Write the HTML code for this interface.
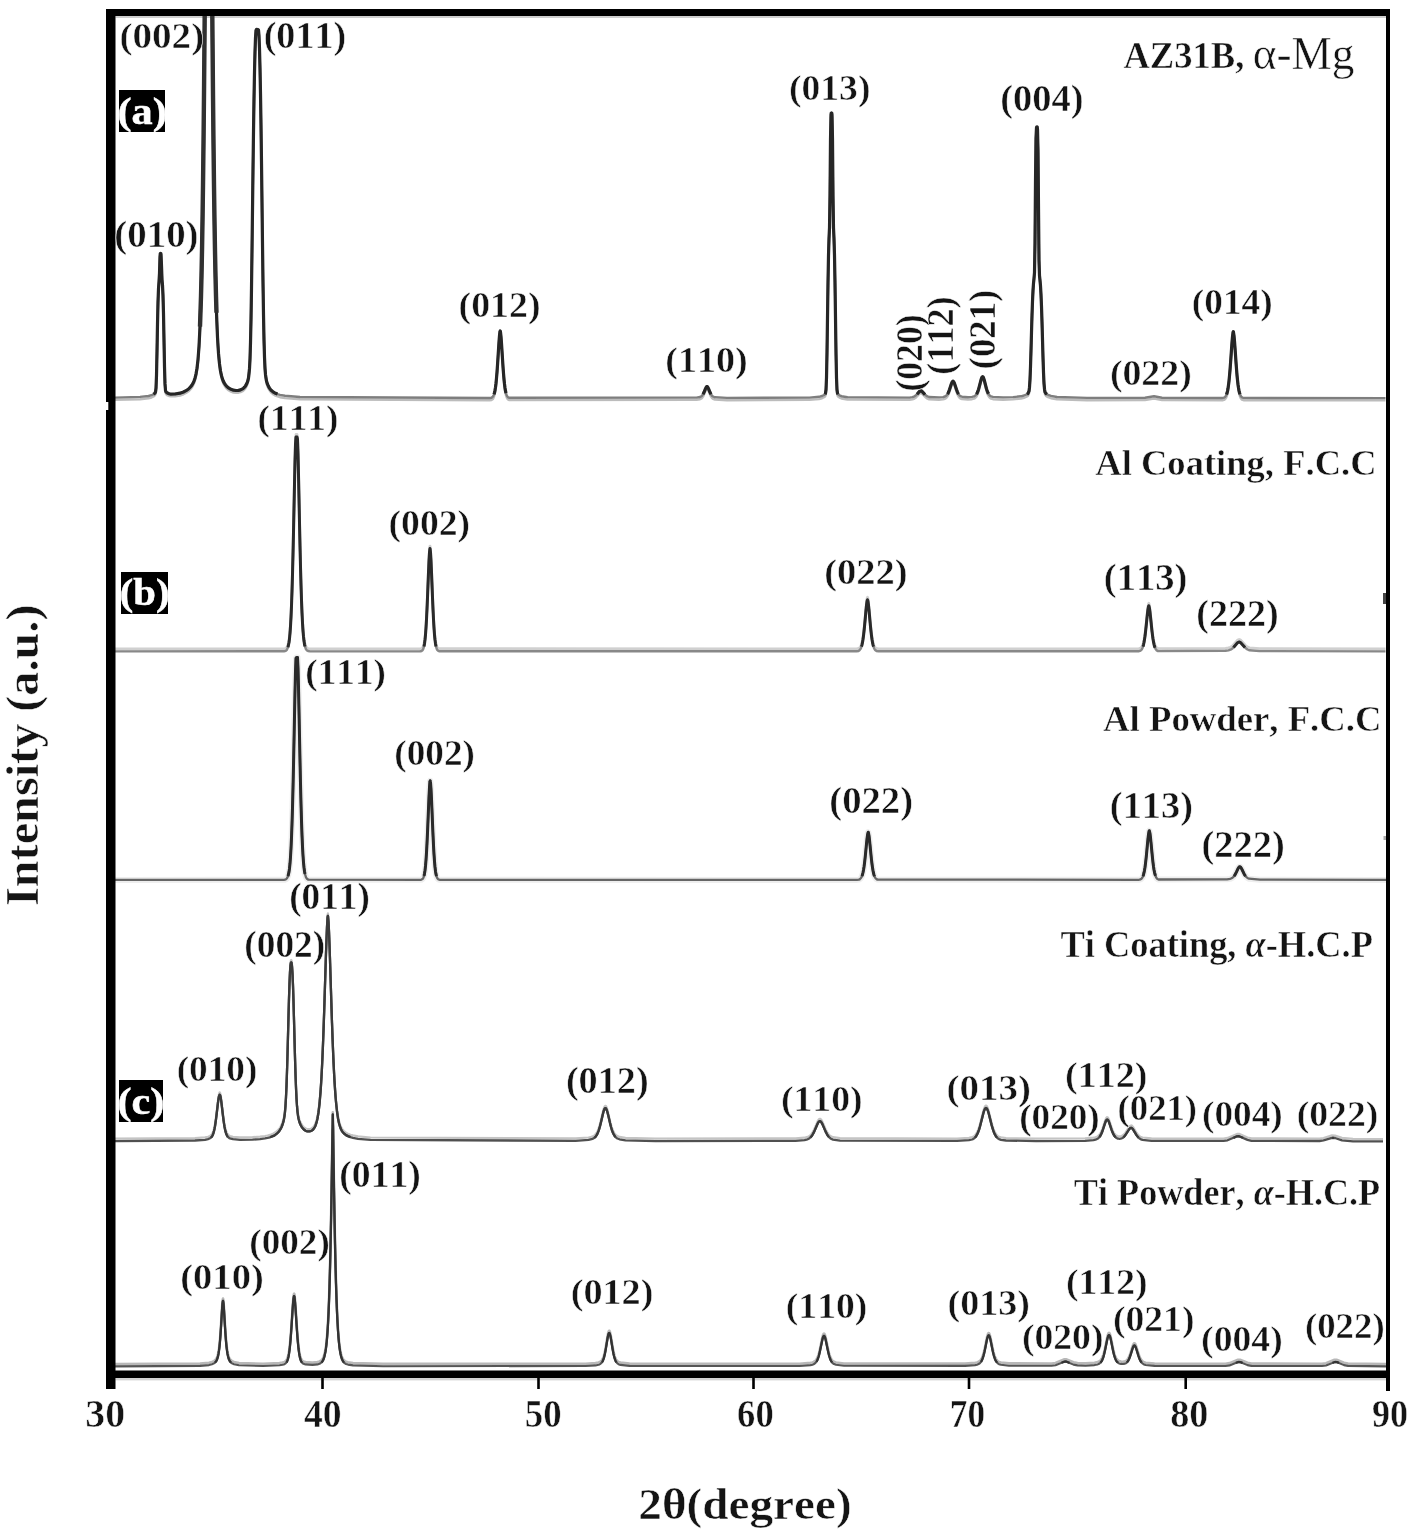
<!DOCTYPE html><html><head><meta charset="utf-8"><title>XRD patterns</title><style>html,body{margin:0;padding:0;background:#fff}svg{display:block}text{font-family:"Liberation Serif","Times New Roman",serif;font-weight:bold;font-kerning:none;fill:#141414;stroke:#fff;stroke-width:0.5px}</style></head><body>
<svg width="1415" height="1537" viewBox="0 0 1415 1537">
<rect width="1415" height="1537" fill="#fff"/>
<defs><clipPath id="pc"><rect x="115" y="16" width="1271" height="1355"/></clipPath></defs>
<rect x="115.5" y="16" width="1270.5" height="2" fill="#cfcfcf"/>
<g clip-path="url(#pc)" fill="none" stroke-linejoin="round">
<defs><path id="cAZ31B" d="M115.0,397.6 140.0,396.9 148.5,396.0 151.5,395.2 153.5,394.2 154.5,393.4 155.0,392.9 155.5,392.0 156.0,388.1 156.5,375.5 157.0,351.7 157.5,324.1 158.0,302.1 158.5,288.7 159.0,281.9 159.5,273.3 160.0,256.8 160.3,253.5 160.6,253.3 160.8,253.5 161.0,254.2 161.5,265.8 162.0,279.6 162.5,285.1 163.0,295.4 163.5,313.9 164.0,340.0 164.5,366.6 165.0,383.9 165.5,390.4 166.0,391.9 167.0,392.8 169.0,393.7 171.0,394.1 175.0,394.0 180.0,393.2 183.5,392.0 186.0,390.7 188.5,389.0 191.0,386.4 192.0,385.0 193.0,383.3 194.0,381.1 195.0,378.2 196.0,374.1 197.0,368.3 198.0,359.6 199.0,346.5 200.0,326.6 201.0,296.3 201.5,275.9 202.0,251.2 202.5,221.4 203.0,185.8 203.5,143.7 204.0,94.6 204.5,37.9 205.0,-26.2 205.5,-97.4 206.0,-174.2 206.5,-254.3 207.0,-333.9 207.5,-407.3 208.0,-467.1 208.2,-488.3 208.5,-499.6 208.8,-488.3 209.0,-467.1 209.5,-407.4 210.0,-333.9 210.5,-254.4 211.0,-174.3 211.5,-97.5 212.0,-26.4 212.5,37.8 213.0,94.4 213.5,143.5 214.0,185.6 214.5,221.2 215.0,251.0 215.5,275.7 216.0,296.0 216.5,312.7 217.5,337.2 218.5,353.4 219.5,363.9 220.5,371.0 221.5,375.7 222.5,379.1 223.5,381.6 224.5,383.4 225.5,384.9 226.5,386.1 227.5,387.1 228.5,387.9 231.0,389.3 233.5,390.2 236.0,390.5 238.5,390.4 240.5,389.9 242.5,388.9 243.5,388.2 244.5,387.2 245.5,385.9 246.5,384.1 247.5,381.8 248.5,378.0 249.5,368.7 250.0,358.8 250.5,342.8 251.0,319.4 251.5,288.4 252.0,251.0 253.0,169.5 253.5,131.7 254.0,99.0 254.5,72.3 255.0,51.8 255.5,37.8 256.0,30.5 256.5,29.4 258.0,29.5 258.5,30.1 259.0,36.0 259.5,48.7 260.0,68.0 260.5,93.6 261.0,125.2 261.5,162.2 262.0,202.6 262.5,243.7 263.0,282.0 263.5,314.6 264.0,339.6 264.5,357.0 265.0,368.1 265.5,374.7 266.5,381.0 267.5,384.2 268.5,386.4 269.5,388.1 270.5,389.5 271.5,390.6 273.5,392.2 275.5,393.3 277.5,394.1 280.0,394.9 285.0,395.8 300.0,397.0 489.5,398.0 491.5,397.7 492.5,397.0 493.0,396.5 493.5,395.6 494.0,394.4 494.5,392.7 495.0,390.3 495.5,387.2 496.0,383.2 496.5,378.1 497.0,372.1 497.5,365.1 498.0,357.4 498.5,349.5 499.0,341.9 499.5,335.6 499.9,331.8 500.0,331.5 500.2,330.9 500.4,331.8 500.5,332.1 501.0,336.7 501.5,343.4 502.0,351.1 502.5,359.0 503.0,366.5 503.5,373.3 504.0,379.2 504.5,384.0 505.0,387.9 505.5,390.9 506.0,393.1 506.5,394.7 507.0,395.8 507.5,396.6 508.0,397.1 508.5,397.5 509.5,397.8 696.5,397.6 700.0,397.0 701.0,396.5 702.0,395.7 703.0,394.3 704.0,392.3 705.5,388.6 706.0,387.6 706.5,386.8 707.0,386.6 707.5,386.8 708.0,387.6 708.5,388.6 710.0,392.3 711.0,394.3 712.0,395.7 713.0,396.5 715.0,397.3 727.0,397.9 809.5,397.6 819.0,396.8 822.0,396.0 824.0,395.0 825.0,394.2 825.5,393.3 826.0,389.7 826.5,377.8 827.0,352.7 828.0,282.7 828.5,255.6 829.0,238.6 829.5,227.7 830.0,195.9 830.5,139.2 831.0,115.0 831.2,113.2 831.5,113.0 831.8,113.2 832.0,115.0 832.5,139.2 833.0,195.9 833.5,227.7 834.0,238.6 834.5,255.6 835.0,282.7 836.0,352.7 836.5,377.8 837.0,389.7 837.5,393.3 838.0,394.2 839.5,395.3 841.5,396.2 847.5,397.3 909.5,397.6 912.5,397.1 914.5,396.3 916.0,395.2 919.5,391.4 920.5,390.8 921.0,390.8 922.0,391.3 925.5,395.0 927.5,396.4 929.0,397.0 939.0,397.4 943.0,397.1 945.0,396.5 946.0,395.9 947.0,394.9 947.5,394.1 948.0,393.2 948.5,392.2 949.5,389.6 951.0,384.9 951.5,383.5 952.0,382.3 952.5,381.5 953.0,381.2 953.5,381.5 954.0,382.3 954.5,383.4 956.5,389.5 957.5,392.1 958.0,393.2 958.5,394.1 959.5,395.4 960.5,396.2 962.0,396.7 968.0,397.2 972.0,396.9 974.0,396.4 975.0,395.8 976.0,394.9 976.5,394.2 977.0,393.3 977.5,392.2 978.0,390.9 978.5,389.4 979.0,387.6 981.0,379.9 981.5,378.3 982.0,377.2 982.6,376.7 983.0,376.9 983.5,377.8 984.0,379.2 984.5,381.0 986.0,386.9 986.5,388.7 987.0,390.3 987.5,391.7 988.0,392.9 988.5,393.8 989.0,394.6 990.0,395.7 991.0,396.3 993.0,396.9 1003.0,397.4 1013.0,397.1 1021.0,396.3 1024.0,395.5 1026.0,394.7 1027.0,394.2 1028.0,393.4 1029.0,391.1 1029.5,387.2 1030.0,379.3 1030.5,366.7 1031.0,350.2 1031.5,332.2 1032.0,315.3 1032.5,301.2 1033.0,290.6 1033.5,283.3 1034.0,278.4 1034.5,272.7 1035.0,243.2 1035.5,181.4 1036.0,138.4 1036.5,127.5 1036.7,127.0 1037.0,126.9 1037.2,127.0 1037.5,129.4 1038.0,150.9 1038.5,207.0 1039.0,260.1 1039.5,275.8 1040.0,280.1 1040.5,285.9 1041.0,294.5 1041.5,306.5 1042.0,321.8 1043.0,357.1 1043.5,372.3 1044.0,383.1 1044.5,389.2 1045.0,392.0 1046.0,393.6 1048.0,394.8 1051.0,395.9 1057.0,397.0 1087.0,397.9 1145.0,397.7 1154.0,396.3 1162.0,397.7 1222.0,398.0 1223.0,397.9 1224.0,397.6 1225.0,397.0 1226.0,395.7 1226.5,394.6 1227.0,393.1 1227.5,391.1 1228.0,388.4 1228.5,385.1 1229.0,380.9 1229.5,375.9 1230.0,370.0 1230.5,363.5 1231.5,349.3 1232.0,342.4 1232.5,336.6 1233.0,332.6 1233.0,332.4 1233.3,331.7 1233.5,332.2 1233.5,332.4 1234.0,335.7 1234.5,341.2 1235.0,347.9 1236.0,362.1 1236.5,368.8 1237.0,374.8 1237.5,380.0 1238.0,384.3 1238.5,387.8 1239.0,390.6 1239.5,392.7 1240.0,394.3 1240.5,395.5 1241.0,396.3 1241.5,396.9 1242.5,397.6 1243.5,397.9 1385.5,398.1"/></defs>
<use href="#cAZ31B" stroke="#bcbcbc" stroke-width="2.4" transform="translate(0,2.3)"/>
<use href="#cAZ31B" stroke="#7e7e7e" stroke-width="2.4"/>
<path d="M153.5,394.2 154.5,393.4 155.0,392.9 155.5,392.0 156.0,388.1 156.5,375.5 157.0,351.7 157.5,324.1 158.0,302.1 158.5,288.7 159.0,281.9 159.5,273.3 160.0,256.8 160.3,253.5 160.6,253.3 160.8,253.5 161.0,254.2 161.5,265.8 162.0,279.6 162.5,285.1 163.0,295.4 163.5,313.9 164.0,340.0 164.5,366.6 165.0,383.9 165.5,390.4 166.0,391.9 167.0,392.8 169.0,393.7 171.0,394.1 175.0,394.0 180.0,393.2 183.5,392.0 186.0,390.7 188.5,389.0 191.0,386.4 192.0,385.0 193.0,383.3 194.0,381.1 195.0,378.2 196.0,374.1 197.0,368.3 198.0,359.6 199.0,346.5 200.0,326.6 201.0,296.3 201.5,275.9 202.0,251.2 202.5,221.4 203.0,185.8 203.5,143.7 204.0,94.6 204.5,37.9 205.0,-26.2 205.5,-97.4 206.0,-174.2 206.5,-254.3 207.0,-333.9 207.5,-407.3 208.0,-467.1 208.2,-488.3 208.5,-499.6 208.8,-488.3 209.0,-467.1 209.5,-407.4 210.0,-333.9 210.5,-254.4 211.0,-174.3 211.5,-97.5 212.0,-26.4 212.5,37.8 213.0,94.4 213.5,143.5 214.0,185.6 214.5,221.2 215.0,251.0 215.5,275.7 216.0,296.0 216.5,312.7 217.5,337.2 218.5,353.4 219.5,363.9 220.5,371.0 221.5,375.7 222.5,379.1 223.5,381.6 224.5,383.4 225.5,384.9 226.5,386.1 227.5,387.1 228.5,387.9 231.0,389.3 233.5,390.2 236.0,390.5 238.5,390.4 240.5,389.9 242.5,388.9 243.5,388.2 244.5,387.2 245.5,385.9 246.5,384.1 247.5,381.8 248.5,378.0 249.5,368.7 250.0,358.8 250.5,342.8 251.0,319.4 251.5,288.4 252.0,251.0 253.0,169.5 253.5,131.7 254.0,99.0 254.5,72.3 255.0,51.8 255.5,37.8 256.0,30.5 256.5,29.4 258.0,29.5 258.5,30.1 259.0,36.0 259.5,48.7 260.0,68.0 260.5,93.6 261.0,125.2 261.5,162.2 262.0,202.6 262.5,243.7 263.0,282.0 263.5,314.6 264.0,339.6 264.5,357.0 265.0,368.1 265.5,374.7 266.5,381.0 267.5,384.2 268.5,386.4 269.5,388.1 270.5,389.5 271.5,390.6 273.5,392.2 275.5,393.3 277.5,394.1 M494.0,394.4 494.5,392.7 495.0,390.3 495.5,387.2 496.0,383.2 496.5,378.1 497.0,372.1 497.5,365.1 498.0,357.4 498.5,349.5 499.0,341.9 499.5,335.6 499.9,331.8 500.0,331.5 500.2,330.9 500.4,331.8 500.5,332.1 501.0,336.7 501.5,343.4 502.0,351.1 502.5,359.0 503.0,366.5 503.5,373.3 504.0,379.2 504.5,384.0 505.0,387.9 505.5,390.9 506.0,393.1 M703.0,394.3 704.0,392.3 705.5,388.6 706.0,387.6 706.5,386.8 707.0,386.6 707.5,386.8 708.0,387.6 708.5,388.6 710.0,392.3 711.0,394.3 M825.0,394.2 825.5,393.3 826.0,389.7 826.5,377.8 827.0,352.7 828.0,282.7 828.5,255.6 829.0,238.6 829.5,227.7 830.0,195.9 830.5,139.2 831.0,115.0 831.2,113.2 831.5,113.0 831.8,113.2 832.0,115.0 832.5,139.2 833.0,195.9 833.5,227.7 834.0,238.6 834.5,255.6 835.0,282.7 836.0,352.7 836.5,377.8 837.0,389.7 837.5,393.3 838.0,394.2 M917.0,394.2 919.5,391.4 920.5,390.8 921.0,390.8 922.0,391.3 925.0,394.6 M947.5,394.1 948.0,393.2 948.5,392.2 949.5,389.6 951.0,384.9 951.5,383.5 952.0,382.3 952.5,381.5 953.0,381.2 953.5,381.5 954.0,382.3 954.5,383.4 956.5,389.5 957.5,392.1 958.0,393.2 958.5,394.1 M976.5,394.2 977.0,393.3 977.5,392.2 978.0,390.9 978.5,389.4 979.0,387.6 981.0,379.9 981.5,378.3 982.0,377.2 982.6,376.7 983.0,376.9 983.5,377.8 984.0,379.2 984.5,381.0 986.0,386.9 986.5,388.7 987.0,390.3 987.5,391.7 988.0,392.9 988.5,393.8 M1027.0,394.2 1028.0,393.4 1029.0,391.1 1029.5,387.2 1030.0,379.3 1030.5,366.7 1031.0,350.2 1031.5,332.2 1032.0,315.3 1032.5,301.2 1033.0,290.6 1033.5,283.3 1034.0,278.4 1034.5,272.7 1035.0,243.2 1035.5,181.4 1036.0,138.4 1036.5,127.5 1036.7,127.0 1037.0,126.9 1037.2,127.0 1037.5,129.4 1038.0,150.9 1038.5,207.0 1039.0,260.1 1039.5,275.8 1040.0,280.1 1040.5,285.9 1041.0,294.5 1041.5,306.5 1042.0,321.8 1043.0,357.1 1043.5,372.3 1044.0,383.1 1044.5,389.2 1045.0,392.0 1046.0,393.6 1047.0,394.3 M1226.5,394.6 1227.0,393.1 1227.5,391.1 1228.0,388.4 1228.5,385.1 1229.0,380.9 1229.5,375.9 1230.0,370.0 1230.5,363.5 1231.5,349.3 1232.0,342.4 1232.5,336.6 1233.0,332.6 1233.0,332.4 1233.3,331.7 1233.5,332.2 1233.5,332.4 1234.0,335.7 1234.5,341.2 1235.0,347.9 1236.0,362.1 1236.5,368.8 1237.0,374.8 1237.5,380.0 1238.0,384.3 1238.5,387.8 1239.0,390.6 1239.5,392.7 1240.0,394.3" stroke="#262626" stroke-width="3.2"/>
<path d="M200.0,326.6 201.0,296.3 201.5,275.9 202.0,251.2 202.5,221.4 203.0,185.8 203.5,143.7 204.0,94.6 204.5,37.9 205.0,-26.2 205.5,-97.4 206.0,-174.2 206.5,-254.3 207.0,-333.9 207.5,-407.3 208.0,-467.1 208.2,-488.3 208.5,-499.6 208.8,-488.3 209.0,-467.1 209.5,-407.4 210.0,-333.9 210.5,-254.4 211.0,-174.3 211.5,-97.5 212.0,-26.4 212.5,37.8 213.0,94.4 213.5,143.5 214.0,185.6 214.5,221.2 215.0,251.0 215.5,275.7 216.0,296.0 216.5,312.7" stroke="#303030" stroke-width="4.4"/>
<defs><path id="cAlC" d="M115.0,651.4 284.0,651.3 285.0,651.1 286.0,650.7 287.0,649.6 288.0,647.3 289.0,642.5 289.5,638.6 290.0,633.3 290.5,626.3 291.0,617.3 291.5,605.8 292.0,591.5 292.5,574.4 293.0,554.5 293.5,532.1 294.0,508.2 294.5,484.0 295.0,461.6 295.5,444.0 296.0,437.0 297.0,437.0 297.5,439.3 298.0,453.8 298.5,474.7 299.0,498.5 299.5,522.7 300.0,545.8 300.5,566.8 301.0,585.0 301.5,600.4 302.0,613.0 302.5,623.0 303.0,630.8 303.5,636.7 304.0,641.1 304.5,644.3 305.0,646.5 306.0,649.3 307.0,650.5 308.0,651.0 310.0,651.4 419.5,651.4 420.5,651.3 421.5,651.0 422.5,650.2 423.0,649.5 423.5,648.2 424.0,646.4 424.5,643.7 425.0,639.9 425.5,634.8 426.0,628.0 426.5,619.5 427.0,609.3 427.5,597.6 428.5,572.4 429.0,561.1 429.5,552.4 429.8,549.8 430.0,548.6 430.2,549.8 430.5,552.4 431.0,561.1 431.5,572.4 432.5,597.6 433.0,609.3 433.5,619.5 434.0,628.0 434.5,634.8 435.0,639.9 435.5,643.7 436.0,646.4 436.5,648.2 437.0,649.5 437.5,650.2 438.0,650.7 439.0,651.2 856.5,651.3 858.5,651.0 859.5,650.3 860.5,649.1 861.0,648.0 861.5,646.6 862.0,644.8 862.5,642.4 863.0,639.4 863.5,635.8 864.0,631.5 864.5,626.6 865.0,621.3 866.0,610.2 866.5,605.3 867.0,601.6 867.2,600.4 867.5,599.8 867.8,600.4 868.0,601.6 868.5,605.3 869.0,610.2 870.0,621.3 870.5,626.6 871.0,631.5 871.5,635.8 872.0,639.4 872.5,642.4 873.0,644.8 873.5,646.6 874.0,648.0 874.5,649.1 875.0,649.8 875.5,650.3 876.5,651.0 878.5,651.3 1138.0,651.3 1139.0,651.2 1140.0,650.9 1141.0,650.3 1141.5,649.7 1142.0,649.0 1142.5,648.0 1143.0,646.6 1143.5,644.8 1144.0,642.5 1144.5,639.6 1145.0,636.2 1145.5,632.1 1146.0,627.6 1147.0,617.9 1147.5,613.2 1148.0,609.2 1148.5,606.4 1148.8,605.8 1149.0,606.3 1149.5,608.5 1150.0,612.3 1150.5,616.9 1151.5,626.7 1152.0,631.3 1152.5,635.4 1153.0,639.0 1153.5,641.9 1154.0,644.3 1154.5,646.3 1155.0,647.7 1155.5,648.8 1156.0,649.6 1156.5,650.2 1157.0,650.6 1158.0,651.1 1225.5,650.8 1228.5,650.4 1230.5,649.7 1232.5,648.4 1237.5,642.8 1238.5,642.2 1239.5,642.0 1240.5,642.5 1245.5,648.0 1247.5,649.5 1249.5,650.3 1259.5,651.1 1385.5,651.4"/></defs>
<use href="#cAlC" stroke="#d0d0d0" stroke-width="2.8" transform="translate(0,-2.5)"/>
<use href="#cAlC" stroke="#888888" stroke-width="2.4"/>
<path d="M288.0,647.3 289.0,642.5 289.5,638.6 290.0,633.3 290.5,626.3 291.0,617.3 291.5,605.8 292.0,591.5 292.5,574.4 293.0,554.5 293.5,532.1 294.0,508.2 294.5,484.0 295.0,461.6 295.5,444.0 296.0,437.0 297.0,437.0 297.5,439.3 298.0,453.8 298.5,474.7 299.0,498.5 299.5,522.7 300.0,545.8 300.5,566.8 301.0,585.0 301.5,600.4 302.0,613.0 302.5,623.0 303.0,630.8 303.5,636.7 304.0,641.1 304.5,644.3 305.0,646.5 M424.0,646.4 424.5,643.7 425.0,639.9 425.5,634.8 426.0,628.0 426.5,619.5 427.0,609.3 427.5,597.6 428.5,572.4 429.0,561.1 429.5,552.4 429.8,549.8 430.0,548.6 430.2,549.8 430.5,552.4 431.0,561.1 431.5,572.4 432.5,597.6 433.0,609.3 433.5,619.5 434.0,628.0 434.5,634.8 435.0,639.9 435.5,643.7 436.0,646.4 M861.5,646.6 862.0,644.8 862.5,642.4 863.0,639.4 863.5,635.8 864.0,631.5 864.5,626.6 865.0,621.3 866.0,610.2 866.5,605.3 867.0,601.6 867.2,600.4 867.5,599.8 867.8,600.4 868.0,601.6 868.5,605.3 869.0,610.2 870.0,621.3 870.5,626.6 871.0,631.5 871.5,635.8 872.0,639.4 872.5,642.4 873.0,644.8 873.5,646.6 M1143.0,646.6 1143.5,644.8 1144.0,642.5 1144.5,639.6 1145.0,636.2 1145.5,632.1 1146.0,627.6 1147.0,617.9 1147.5,613.2 1148.0,609.2 1148.5,606.4 1148.8,605.8 1149.0,606.3 1149.5,608.5 1150.0,612.3 1150.5,616.9 1151.5,626.7 1152.0,631.3 1152.5,635.4 1153.0,639.0 1153.5,641.9 1154.0,644.3 1154.5,646.3 1155.0,647.7 M1233.5,647.4 1237.5,642.8 1238.5,642.2 1239.5,642.0 1240.5,642.5 1245.0,647.5" stroke="#2a2a2a" stroke-width="3.0"/>
<defs><path id="cAlP" d="M115.0,879.9 284.0,879.8 285.0,879.7 286.0,879.3 287.0,878.3 288.0,876.2 289.0,871.9 289.5,868.4 290.0,863.5 290.5,857.0 291.0,848.5 291.5,837.6 292.0,824.0 292.5,807.5 293.0,787.9 293.5,765.7 294.0,741.3 294.5,716.1 295.0,691.9 295.5,671.2 296.0,658.2 296.6,657.4 297.5,657.4 298.0,667.8 298.5,687.3 299.0,711.1 299.5,736.3 300.0,760.9 300.5,783.7 301.0,803.8 301.5,820.9 302.0,835.1 302.5,846.6 303.0,855.5 303.5,862.4 304.0,867.5 304.5,871.3 305.0,874.0 306.0,877.3 307.0,878.8 308.0,879.5 309.0,879.7 420.5,879.8 421.5,879.6 422.5,879.0 423.0,878.4 423.5,877.4 424.0,875.9 424.5,873.6 425.0,870.4 425.5,866.0 426.0,860.1 426.5,852.6 427.0,843.4 427.5,832.6 428.0,820.8 428.5,808.5 429.0,796.9 429.5,787.3 429.9,781.8 430.0,781.5 430.2,780.7 430.4,781.8 430.5,782.2 431.0,789.0 431.5,799.1 432.0,810.9 432.5,823.2 433.0,834.9 433.5,845.4 434.0,854.3 434.5,861.4 435.0,867.0 435.5,871.2 436.0,874.2 436.5,876.2 437.0,877.6 437.5,878.5 438.0,879.1 438.5,879.4 439.5,879.8 857.0,879.9 859.0,879.6 860.0,879.1 861.0,878.0 861.5,877.2 862.0,876.1 862.5,874.5 863.0,872.5 863.5,870.0 864.0,866.9 864.5,863.2 865.0,858.9 865.5,854.1 866.5,843.8 867.0,839.0 867.5,835.1 868.0,832.7 868.2,832.2 868.5,832.9 869.0,835.8 869.5,839.9 870.0,844.8 871.0,855.1 871.5,859.8 872.0,864.0 872.5,867.6 873.0,870.6 873.5,873.0 874.0,874.9 874.5,876.3 875.0,877.4 875.5,878.2 876.0,878.7 876.5,879.1 877.5,879.6 1138.5,879.8 1139.5,879.7 1140.5,879.4 1141.5,878.7 1142.0,878.1 1142.5,877.3 1143.0,876.2 1143.5,874.7 1144.0,872.7 1144.5,870.3 1145.0,867.2 1145.5,863.4 1146.0,859.1 1146.5,854.3 1147.5,843.7 1148.0,838.7 1148.5,834.4 1149.0,831.4 1149.3,830.7 1149.5,831.2 1150.0,833.6 1150.5,837.7 1151.0,842.7 1152.0,853.2 1152.5,858.2 1153.0,862.6 1153.5,866.5 1154.0,869.7 1154.5,872.3 1155.0,874.3 1155.5,875.9 1156.0,877.1 1156.5,878.0 1157.0,878.6 1157.5,879.0 1158.5,879.5 1227.0,879.3 1230.0,878.9 1231.0,878.5 1232.5,877.7 1233.5,876.8 1234.5,875.6 1235.5,873.9 1238.0,868.7 1238.5,867.8 1239.0,867.1 1239.5,866.7 1240.0,866.7 1240.5,867.0 1241.0,867.6 1242.0,869.5 1244.0,873.7 1245.0,875.4 1246.0,876.7 1247.5,878.0 1249.0,878.7 1260.0,879.7 1386.0,879.9"/></defs>
<use href="#cAlP" stroke="#eeeeee" stroke-width="6" transform="translate(0,0)"/>
<use href="#cAlP" stroke="#666666" stroke-width="2.3"/>
<path d="M288.0,876.2 289.0,871.9 289.5,868.4 290.0,863.5 290.5,857.0 291.0,848.5 291.5,837.6 292.0,824.0 292.5,807.5 293.0,787.9 293.5,765.7 294.0,741.3 294.5,716.1 295.0,691.9 295.5,671.2 296.0,658.2 296.6,657.4 297.5,657.4 298.0,667.8 298.5,687.3 299.0,711.1 299.5,736.3 300.0,760.9 300.5,783.7 301.0,803.8 301.5,820.9 302.0,835.1 302.5,846.6 303.0,855.5 303.5,862.4 304.0,867.5 304.5,871.3 305.0,874.0 M424.0,875.9 424.5,873.6 425.0,870.4 425.5,866.0 426.0,860.1 426.5,852.6 427.0,843.4 427.5,832.6 428.0,820.8 428.5,808.5 429.0,796.9 429.5,787.3 429.9,781.8 430.0,781.5 430.2,780.7 430.4,781.8 430.5,782.2 431.0,789.0 431.5,799.1 432.0,810.9 432.5,823.2 433.0,834.9 433.5,845.4 434.0,854.3 434.5,861.4 435.0,867.0 435.5,871.2 436.0,874.2 436.5,876.2 M862.0,876.1 862.5,874.5 863.0,872.5 863.5,870.0 864.0,866.9 864.5,863.2 865.0,858.9 865.5,854.1 866.5,843.8 867.0,839.0 867.5,835.1 868.0,832.7 868.2,832.2 868.5,832.9 869.0,835.8 869.5,839.9 870.0,844.8 871.0,855.1 871.5,859.8 872.0,864.0 872.5,867.6 873.0,870.6 873.5,873.0 874.0,874.9 874.5,876.3 M1143.0,876.2 1143.5,874.7 1144.0,872.7 1144.5,870.3 1145.0,867.2 1145.5,863.4 1146.0,859.1 1146.5,854.3 1147.5,843.7 1148.0,838.7 1148.5,834.4 1149.0,831.4 1149.3,830.7 1149.5,831.2 1150.0,833.6 1150.5,837.7 1151.0,842.7 1152.0,853.2 1152.5,858.2 1153.0,862.6 1153.5,866.5 1154.0,869.7 1154.5,872.3 1155.0,874.3 1155.5,875.9 M1234.0,876.2 1235.0,874.8 1236.5,871.9 1238.0,868.7 1238.5,867.8 1239.0,867.1 1239.5,866.7 1240.0,866.7 1240.5,867.0 1241.0,867.6 1242.0,869.5 1244.0,873.7 1245.0,875.4 1245.5,876.1" stroke="#2a2a2a" stroke-width="3.0"/>
<defs><path id="cTiC" d="M115.0,1141.1 195.0,1140.5 205.0,1139.8 208.0,1139.1 210.0,1138.3 211.0,1137.6 212.0,1136.4 212.5,1135.5 213.0,1134.4 213.5,1132.9 214.0,1131.1 214.5,1128.9 215.0,1126.2 215.5,1123.0 216.0,1119.4 216.5,1115.4 217.5,1106.8 218.0,1102.6 218.5,1099.0 219.0,1096.3 219.5,1095.0 219.7,1094.8 220.0,1095.1 220.5,1096.7 221.0,1099.6 221.5,1103.4 223.0,1116.1 223.5,1120.1 224.0,1123.6 224.5,1126.7 225.0,1129.2 225.5,1131.4 226.0,1133.1 226.5,1134.5 227.0,1135.5 227.5,1136.4 228.0,1137.0 229.0,1137.9 230.0,1138.4 233.0,1139.2 240.0,1139.8 252.5,1139.6 260.0,1139.1 265.0,1138.4 267.5,1137.9 270.0,1137.3 273.5,1135.9 275.5,1134.7 277.5,1133.1 278.5,1132.0 279.5,1130.7 280.5,1129.2 281.5,1127.2 282.5,1124.8 283.5,1121.4 284.0,1119.1 284.5,1116.1 285.0,1111.8 285.5,1105.8 286.0,1097.4 286.5,1086.1 287.0,1071.7 287.5,1054.6 288.0,1035.8 288.5,1016.6 289.0,998.6 289.5,983.4 290.0,972.2 290.5,965.3 290.9,962.7 291.2,962.4 291.5,962.8 292.0,966.2 292.5,973.9 293.0,985.9 293.5,1001.6 294.0,1019.9 294.5,1039.1 295.0,1057.7 295.5,1074.2 296.0,1087.8 296.5,1098.4 297.0,1106.2 297.5,1111.8 298.0,1115.7 298.5,1118.5 299.0,1120.5 299.5,1122.2 300.5,1124.7 301.5,1126.6 302.5,1128.1 303.5,1129.2 304.5,1130.1 305.5,1130.7 306.5,1131.1 307.5,1131.4 309.5,1131.4 310.5,1131.2 311.5,1130.8 312.5,1130.1 313.5,1129.1 314.5,1127.7 315.5,1125.7 316.5,1122.7 317.5,1118.5 318.5,1112.5 319.5,1104.1 320.5,1092.4 321.0,1085.2 321.5,1076.8 322.0,1067.2 322.5,1056.4 323.0,1044.3 323.5,1031.0 324.0,1016.6 324.5,1001.2 325.5,969.1 326.0,953.5 326.5,939.3 327.0,927.3 327.5,918.9 327.6,917.2 327.9,915.8 328.0,916.2 328.1,917.3 328.5,921.8 329.0,931.9 329.5,945.0 330.0,959.9 330.5,975.9 331.0,992.0 331.5,1007.9 332.0,1023.0 332.5,1037.1 333.0,1049.9 333.5,1061.6 334.0,1072.0 334.5,1081.1 335.0,1089.1 335.5,1096.1 336.0,1102.0 337.0,1111.5 338.0,1118.4 339.0,1123.2 340.0,1126.7 341.0,1129.2 342.0,1131.1 343.0,1132.5 344.0,1133.5 346.0,1135.1 348.0,1136.1 350.5,1137.1 353.0,1137.8 358.0,1138.8 370.5,1139.9 575.5,1140.8 588.5,1139.9 591.5,1139.2 593.5,1138.4 594.5,1137.7 595.5,1136.8 596.5,1135.4 597.5,1133.6 598.5,1131.1 599.0,1129.6 600.0,1126.2 601.0,1122.2 603.0,1113.7 603.5,1111.8 604.0,1110.2 604.5,1109.0 605.1,1108.2 605.6,1108.2 606.0,1108.5 606.5,1109.5 607.0,1110.8 607.5,1112.5 608.5,1116.6 610.0,1123.1 611.0,1127.0 611.5,1128.7 612.0,1130.3 612.5,1131.7 613.5,1134.0 614.5,1135.7 615.5,1137.0 616.5,1137.9 617.5,1138.5 619.5,1139.3 625.5,1140.3 655.5,1141.1 795.5,1140.8 804.5,1140.1 807.5,1139.3 808.5,1138.9 809.5,1138.2 810.5,1137.4 811.5,1136.3 812.5,1134.8 814.0,1132.1 817.5,1124.0 818.0,1123.0 818.5,1122.2 819.0,1121.6 819.6,1121.2 820.1,1121.2 820.5,1121.4 821.0,1121.8 821.5,1122.5 822.5,1124.4 825.5,1131.4 827.0,1134.3 828.0,1135.9 829.0,1137.1 830.0,1138.0 831.0,1138.7 833.0,1139.6 840.0,1140.6 957.0,1140.9 969.0,1140.2 972.0,1139.5 973.0,1139.1 974.0,1138.5 975.0,1137.6 976.0,1136.4 977.0,1134.7 978.0,1132.5 979.0,1129.8 980.0,1126.5 983.0,1114.7 983.5,1112.8 984.0,1111.2 984.5,1109.9 985.0,1108.8 985.5,1108.2 986.0,1108.0 986.5,1108.2 987.0,1108.8 987.5,1109.9 988.0,1111.2 988.5,1112.8 989.5,1116.6 991.5,1124.6 992.5,1128.2 993.5,1131.2 994.0,1132.5 995.0,1134.7 996.0,1136.4 997.0,1137.6 998.0,1138.5 999.0,1139.1 1001.0,1139.8 1006.0,1140.5 1036.0,1141.1 1085.0,1140.8 1093.5,1140.1 1095.5,1139.7 1097.5,1138.8 1098.5,1138.1 1099.5,1137.0 1100.5,1135.5 1101.5,1133.5 1102.5,1131.0 1105.0,1123.3 1105.5,1122.0 1106.0,1120.8 1106.5,1120.0 1107.0,1119.6 1107.5,1119.7 1108.0,1120.1 1108.5,1121.0 1109.0,1122.1 1111.5,1129.6 1112.5,1132.3 1113.5,1134.4 1114.5,1136.1 1115.5,1137.2 1116.5,1138.0 1117.5,1138.5 1118.5,1138.7 1119.5,1138.8 1120.5,1138.7 1121.5,1138.4 1122.5,1138.0 1124.0,1136.8 1125.5,1135.0 1129.0,1129.5 1130.0,1128.3 1131.1,1127.8 1131.5,1127.9 1132.0,1128.2 1133.0,1129.3 1136.5,1135.1 1138.0,1137.1 1139.5,1138.5 1140.5,1139.1 1142.5,1139.9 1151.5,1140.8 1223.5,1140.9 1227.5,1140.3 1237.0,1136.3 1239.0,1136.2 1247.5,1139.9 1251.5,1140.8 1319.5,1141.0 1323.5,1140.4 1332.0,1137.8 1335.0,1138.0 1342.0,1140.3 1353.0,1141.3 1383.0,1141.4"/></defs>
<use href="#cTiC" stroke="#c4c4c4" stroke-width="2.2" transform="translate(0,-2.4)"/>
<use href="#cTiC" stroke="#505050" stroke-width="2.3"/>
<path d="M211.0,1137.6 212.0,1136.4 212.5,1135.5 213.0,1134.4 213.5,1132.9 214.0,1131.1 214.5,1128.9 215.0,1126.2 215.5,1123.0 216.0,1119.4 216.5,1115.4 217.5,1106.8 218.0,1102.6 218.5,1099.0 219.0,1096.3 219.5,1095.0 219.7,1094.8 220.0,1095.1 220.5,1096.7 221.0,1099.6 221.5,1103.4 223.0,1116.1 223.5,1120.1 224.0,1123.6 224.5,1126.7 225.0,1129.2 225.5,1131.4 226.0,1133.1 226.5,1134.5 227.0,1135.5 227.5,1136.4 228.0,1137.0 M270.0,1137.3 273.5,1135.9 275.5,1134.7 277.5,1133.1 278.5,1132.0 279.5,1130.7 280.5,1129.2 281.5,1127.2 282.5,1124.8 283.5,1121.4 284.0,1119.1 284.5,1116.1 285.0,1111.8 285.5,1105.8 286.0,1097.4 286.5,1086.1 287.0,1071.7 287.5,1054.6 288.0,1035.8 288.5,1016.6 289.0,998.6 289.5,983.4 290.0,972.2 290.5,965.3 290.9,962.7 291.2,962.4 291.5,962.8 292.0,966.2 292.5,973.9 293.0,985.9 293.5,1001.6 294.0,1019.9 294.5,1039.1 295.0,1057.7 295.5,1074.2 296.0,1087.8 296.5,1098.4 297.0,1106.2 297.5,1111.8 298.0,1115.7 298.5,1118.5 299.0,1120.5 299.5,1122.2 300.5,1124.7 301.5,1126.6 302.5,1128.1 303.5,1129.2 304.5,1130.1 305.5,1130.7 306.5,1131.1 307.5,1131.4 309.5,1131.4 310.5,1131.2 311.5,1130.8 312.5,1130.1 313.5,1129.1 314.5,1127.7 315.5,1125.7 316.5,1122.7 317.5,1118.5 318.5,1112.5 319.5,1104.1 320.5,1092.4 321.0,1085.2 321.5,1076.8 322.0,1067.2 322.5,1056.4 323.0,1044.3 323.5,1031.0 324.0,1016.6 324.5,1001.2 325.5,969.1 326.0,953.5 326.5,939.3 327.0,927.3 327.5,918.9 327.6,917.2 327.9,915.8 328.0,916.2 328.1,917.3 328.5,921.8 329.0,931.9 329.5,945.0 330.0,959.9 330.5,975.9 331.0,992.0 331.5,1007.9 332.0,1023.0 332.5,1037.1 333.0,1049.9 333.5,1061.6 334.0,1072.0 334.5,1081.1 335.0,1089.1 335.5,1096.1 336.0,1102.0 337.0,1111.5 338.0,1118.4 339.0,1123.2 340.0,1126.7 341.0,1129.2 342.0,1131.1 343.0,1132.5 344.0,1133.5 346.0,1135.1 348.0,1136.1 350.5,1137.1 M594.5,1137.7 595.5,1136.8 596.5,1135.4 597.5,1133.6 598.5,1131.1 599.0,1129.6 600.0,1126.2 601.0,1122.2 603.0,1113.7 603.5,1111.8 604.0,1110.2 604.5,1109.0 605.1,1108.2 605.6,1108.2 606.0,1108.5 606.5,1109.5 607.0,1110.8 607.5,1112.5 608.5,1116.6 610.0,1123.1 611.0,1127.0 611.5,1128.7 612.0,1130.3 612.5,1131.7 613.5,1134.0 614.5,1135.7 615.5,1137.0 M810.5,1137.4 811.5,1136.3 812.5,1134.8 814.0,1132.1 817.5,1124.0 818.0,1123.0 818.5,1122.2 819.0,1121.6 819.6,1121.2 820.1,1121.2 820.5,1121.4 821.0,1121.8 821.5,1122.5 822.5,1124.4 825.5,1131.4 827.0,1134.3 828.0,1135.9 829.0,1137.1 M975.0,1137.6 976.0,1136.4 977.0,1134.7 978.0,1132.5 979.0,1129.8 980.0,1126.5 983.0,1114.7 983.5,1112.8 984.0,1111.2 984.5,1109.9 985.0,1108.8 985.5,1108.2 986.0,1108.0 986.5,1108.2 987.0,1108.8 987.5,1109.9 988.0,1111.2 988.5,1112.8 989.5,1116.6 991.5,1124.6 992.5,1128.2 993.5,1131.2 994.0,1132.5 995.0,1134.7 996.0,1136.4 997.0,1137.6 M1099.5,1137.0 1100.5,1135.5 1101.5,1133.5 1102.5,1131.0 1105.0,1123.3 1105.5,1122.0 1106.0,1120.8 1106.5,1120.0 1107.0,1119.6 1107.5,1119.7 1108.0,1120.1 1108.5,1121.0 1109.0,1122.1 1111.5,1129.6 1112.5,1132.3 1113.5,1134.4 1114.5,1136.1 1115.5,1137.2 M1123.5,1137.2 1125.0,1135.7 1127.0,1132.7 1129.0,1129.5 1130.0,1128.3 1131.1,1127.8 1131.5,1127.9 1132.0,1128.2 1133.0,1129.3 1136.5,1135.1 1138.0,1137.1 1138.5,1137.6 M1233.5,1137.9 1237.0,1136.3 1239.0,1136.2 1243.0,1137.8 M1332.0,1137.8 1334.0,1137.8" stroke="#3a3a3a" stroke-width="2.3"/>
<defs><path id="cTiP" d="M115.0,1366.4 200.0,1365.9 209.0,1365.1 212.0,1364.3 214.0,1363.4 215.0,1362.6 216.0,1361.5 216.5,1360.7 217.0,1359.6 217.5,1358.2 218.0,1356.4 218.5,1353.9 219.0,1350.7 219.5,1346.6 220.0,1341.3 220.5,1334.8 221.0,1327.2 222.0,1310.3 222.5,1303.7 222.8,1301.6 223.0,1300.8 223.2,1301.6 223.5,1303.7 224.0,1310.3 225.0,1327.1 225.5,1334.8 226.0,1341.3 226.5,1346.6 227.0,1350.7 227.5,1353.9 228.0,1356.3 228.5,1358.2 229.0,1359.6 229.5,1360.6 230.0,1361.5 231.0,1362.6 232.0,1363.4 234.0,1364.3 239.0,1365.3 263.0,1366.0 279.5,1365.3 282.5,1364.8 284.5,1364.2 285.5,1363.5 286.5,1362.4 287.0,1361.6 287.5,1360.4 288.0,1358.8 288.5,1356.7 289.0,1353.9 289.5,1350.3 290.0,1345.8 290.5,1340.3 291.0,1334.0 291.5,1326.8 292.5,1311.3 293.0,1304.2 293.5,1298.8 293.9,1296.5 294.0,1296.1 294.1,1296.0 294.4,1296.5 294.5,1297.3 295.0,1301.8 295.5,1308.3 296.0,1315.9 296.5,1323.7 297.0,1331.1 297.5,1337.8 298.0,1343.6 298.5,1348.5 299.0,1352.4 299.5,1355.5 300.0,1357.9 300.5,1359.6 301.0,1361.0 301.5,1361.9 302.0,1362.6 302.5,1363.1 303.5,1363.8 305.5,1364.4 312.5,1364.9 317.5,1364.4 319.5,1363.8 320.5,1363.3 321.5,1362.5 322.5,1361.3 323.5,1359.4 324.5,1356.3 325.5,1351.5 326.0,1348.2 326.5,1344.0 327.0,1338.7 327.5,1332.2 328.0,1324.1 328.5,1314.1 329.0,1301.8 329.5,1287.0 330.0,1269.1 330.5,1247.8 331.0,1223.0 331.5,1194.5 332.0,1163.0 332.5,1130.6 332.6,1127.5 332.8,1114.5 333.0,1124.6 333.1,1127.6 333.5,1156.5 334.0,1188.4 334.5,1217.6 335.0,1243.2 335.5,1265.2 336.0,1283.7 336.5,1299.1 337.0,1311.9 337.5,1322.3 338.0,1330.8 338.5,1337.6 339.0,1343.1 339.5,1347.5 340.0,1351.0 340.5,1353.8 341.0,1356.1 342.0,1359.3 343.0,1361.3 344.0,1362.6 345.0,1363.4 346.0,1364.0 348.0,1364.6 353.0,1365.4 383.0,1366.2 585.5,1366.0 595.5,1365.4 598.5,1364.7 599.5,1364.4 600.5,1363.8 601.5,1362.9 602.0,1362.3 602.5,1361.5 603.0,1360.4 603.5,1359.2 604.0,1357.6 604.5,1355.6 605.0,1353.4 605.5,1350.8 606.0,1347.9 607.5,1338.7 608.0,1336.0 608.5,1334.1 609.0,1333.1 609.2,1333.0 609.5,1333.2 610.0,1334.4 610.5,1336.5 611.0,1339.3 612.5,1348.5 613.0,1351.3 613.5,1353.9 614.0,1356.0 614.5,1357.9 615.0,1359.4 615.5,1360.7 616.0,1361.7 616.5,1362.4 617.5,1363.5 618.5,1364.2 620.5,1364.9 629.5,1365.9 799.5,1366.0 810.5,1365.1 812.5,1364.7 813.5,1364.3 814.5,1363.8 815.5,1362.9 816.5,1361.7 817.0,1360.8 817.5,1359.7 818.0,1358.5 818.5,1357.0 819.0,1355.3 819.5,1353.3 820.0,1351.1 822.0,1341.4 822.5,1339.2 823.0,1337.4 823.5,1336.3 823.8,1336.0 824.0,1335.9 824.2,1336.0 824.5,1336.3 825.0,1337.4 825.5,1339.2 826.0,1341.4 827.5,1348.8 828.0,1351.1 828.5,1353.3 829.0,1355.3 829.5,1357.0 830.0,1358.5 830.5,1359.7 831.0,1360.8 831.5,1361.7 832.0,1362.4 833.0,1363.4 834.0,1364.1 836.0,1364.8 844.0,1365.8 965.0,1365.9 975.0,1365.1 977.0,1364.7 978.0,1364.3 979.0,1363.8 980.0,1363.1 981.0,1361.9 981.5,1361.1 982.0,1360.1 982.5,1358.9 983.0,1357.4 983.5,1355.8 984.0,1353.9 984.5,1351.8 985.5,1347.0 986.5,1341.9 987.0,1339.5 987.5,1337.6 988.0,1336.1 988.5,1335.4 988.7,1335.3 989.0,1335.5 989.5,1336.4 990.0,1337.9 990.5,1340.0 992.5,1349.9 993.0,1352.2 993.5,1354.3 994.0,1356.1 994.5,1357.7 995.0,1359.1 995.5,1360.3 996.0,1361.2 997.0,1362.6 998.0,1363.6 999.0,1364.2 1001.0,1364.8 1009.0,1365.7 1051.5,1365.8 1055.5,1365.3 1064.5,1361.6 1066.0,1361.5 1073.5,1364.6 1077.5,1365.4 1085.5,1365.7 1094.5,1365.1 1097.5,1364.4 1098.5,1364.1 1099.5,1363.5 1100.5,1362.7 1101.5,1361.4 1102.0,1360.5 1102.5,1359.4 1103.0,1358.1 1103.5,1356.6 1104.0,1354.8 1104.5,1352.8 1105.0,1350.6 1107.0,1340.7 1107.5,1338.5 1108.0,1336.7 1108.5,1335.5 1108.8,1335.2 1109.0,1335.1 1109.2,1335.2 1109.5,1335.5 1110.0,1336.6 1110.5,1338.4 1111.0,1340.6 1112.5,1348.1 1113.0,1350.5 1113.5,1352.7 1114.0,1354.7 1114.5,1356.4 1115.0,1357.9 1115.5,1359.2 1116.0,1360.2 1116.5,1361.1 1117.0,1361.8 1118.0,1362.7 1119.0,1363.4 1121.0,1363.9 1123.0,1364.0 1125.0,1363.6 1126.0,1363.2 1127.0,1362.4 1128.0,1361.1 1129.0,1359.2 1130.0,1356.7 1131.0,1353.7 1132.5,1348.8 1133.0,1347.4 1133.5,1346.3 1134.2,1345.5 1134.7,1345.6 1135.0,1345.9 1135.5,1346.8 1136.0,1348.0 1138.5,1356.1 1139.5,1358.9 1140.5,1361.0 1141.5,1362.5 1142.5,1363.5 1143.5,1364.2 1145.5,1365.0 1154.5,1365.9 1225.5,1366.0 1229.5,1365.4 1238.0,1362.1 1240.0,1362.0 1247.5,1365.1 1251.5,1365.9 1322.0,1366.0 1326.0,1365.5 1334.5,1362.1 1336.5,1362.0 1344.0,1365.1 1348.0,1365.9 1386.0,1366.4"/></defs>
<use href="#cTiP" stroke="#b8b8b8" stroke-width="2.6" transform="translate(0,-2.3)"/>
<use href="#cTiP" stroke="#555555" stroke-width="2.1"/>
<path d="M215.0,1362.6 216.0,1361.5 216.5,1360.7 217.0,1359.6 217.5,1358.2 218.0,1356.4 218.5,1353.9 219.0,1350.7 219.5,1346.6 220.0,1341.3 220.5,1334.8 221.0,1327.2 222.0,1310.3 222.5,1303.7 222.8,1301.6 223.0,1300.8 223.2,1301.6 223.5,1303.7 224.0,1310.3 225.0,1327.1 225.5,1334.8 226.0,1341.3 226.5,1346.6 227.0,1350.7 227.5,1353.9 228.0,1356.3 228.5,1358.2 229.0,1359.6 229.5,1360.6 230.0,1361.5 231.0,1362.6 M286.5,1362.4 287.0,1361.6 287.5,1360.4 288.0,1358.8 288.5,1356.7 289.0,1353.9 289.5,1350.3 290.0,1345.8 290.5,1340.3 291.0,1334.0 291.5,1326.8 292.5,1311.3 293.0,1304.2 293.5,1298.8 293.9,1296.5 294.0,1296.1 294.1,1296.0 294.4,1296.5 294.5,1297.3 295.0,1301.8 295.5,1308.3 296.0,1315.9 296.5,1323.7 297.0,1331.1 297.5,1337.8 298.0,1343.6 298.5,1348.5 299.0,1352.4 299.5,1355.5 300.0,1357.9 300.5,1359.6 301.0,1361.0 301.5,1361.9 302.0,1362.6 M321.5,1362.5 322.5,1361.3 323.5,1359.4 324.5,1356.3 325.5,1351.5 326.0,1348.2 326.5,1344.0 327.0,1338.7 327.5,1332.2 328.0,1324.1 328.5,1314.1 329.0,1301.8 329.5,1287.0 330.0,1269.1 330.5,1247.8 331.0,1223.0 331.5,1194.5 332.0,1163.0 332.5,1130.6 332.6,1127.5 332.8,1114.5 333.0,1124.6 333.1,1127.6 333.5,1156.5 334.0,1188.4 334.5,1217.6 335.0,1243.2 335.5,1265.2 336.0,1283.7 336.5,1299.1 337.0,1311.9 337.5,1322.3 338.0,1330.8 338.5,1337.6 339.0,1343.1 339.5,1347.5 340.0,1351.0 340.5,1353.8 341.0,1356.1 342.0,1359.3 343.0,1361.3 344.0,1362.6 M602.0,1362.3 602.5,1361.5 603.0,1360.4 603.5,1359.2 604.0,1357.6 604.5,1355.6 605.0,1353.4 605.5,1350.8 606.0,1347.9 607.5,1338.7 608.0,1336.0 608.5,1334.1 609.0,1333.1 609.2,1333.0 609.5,1333.2 610.0,1334.4 610.5,1336.5 611.0,1339.3 612.5,1348.5 613.0,1351.3 613.5,1353.9 614.0,1356.0 614.5,1357.9 615.0,1359.4 615.5,1360.7 616.0,1361.7 616.5,1362.4 M816.5,1361.7 817.0,1360.8 817.5,1359.7 818.0,1358.5 818.5,1357.0 819.0,1355.3 819.5,1353.3 820.0,1351.1 822.0,1341.4 822.5,1339.2 823.0,1337.4 823.5,1336.3 823.8,1336.0 824.0,1335.9 824.2,1336.0 824.5,1336.3 825.0,1337.4 825.5,1339.2 826.0,1341.4 827.5,1348.8 828.0,1351.1 828.5,1353.3 829.0,1355.3 829.5,1357.0 830.0,1358.5 830.5,1359.7 831.0,1360.8 831.5,1361.7 832.0,1362.4 M981.0,1361.9 981.5,1361.1 982.0,1360.1 982.5,1358.9 983.0,1357.4 983.5,1355.8 984.0,1353.9 984.5,1351.8 985.5,1347.0 986.5,1341.9 987.0,1339.5 987.5,1337.6 988.0,1336.1 988.5,1335.4 988.7,1335.3 989.0,1335.5 989.5,1336.4 990.0,1337.9 990.5,1340.0 992.5,1349.9 993.0,1352.2 993.5,1354.3 994.0,1356.1 994.5,1357.7 995.0,1359.1 995.5,1360.3 996.0,1361.2 997.0,1362.6 M1061.5,1362.8 1064.5,1361.6 1066.0,1361.5 1069.5,1362.8 M1100.5,1362.7 1101.5,1361.4 1102.0,1360.5 1102.5,1359.4 1103.0,1358.1 1103.5,1356.6 1104.0,1354.8 1104.5,1352.8 1105.0,1350.6 1107.0,1340.7 1107.5,1338.5 1108.0,1336.7 1108.5,1335.5 1108.8,1335.2 1109.0,1335.1 1109.2,1335.2 1109.5,1335.5 1110.0,1336.6 1110.5,1338.4 1111.0,1340.6 1112.5,1348.1 1113.0,1350.5 1113.5,1352.7 1114.0,1354.7 1114.5,1356.4 1115.0,1357.9 1115.5,1359.2 1116.0,1360.2 1116.5,1361.1 1117.0,1361.8 1118.0,1362.7 M1127.0,1362.4 1128.0,1361.1 1129.0,1359.2 1130.0,1356.7 1131.0,1353.7 1132.5,1348.8 1133.0,1347.4 1133.5,1346.3 1134.2,1345.5 1134.7,1345.6 1135.0,1345.9 1135.5,1346.8 1136.0,1348.0 1138.5,1356.1 1139.5,1358.9 1140.5,1361.0 1141.5,1362.5 M1236.0,1362.8 1238.5,1362.0 1240.5,1362.1 1242.5,1362.9 M1332.5,1362.8 1335.0,1362.0 1337.0,1362.1 1339.0,1362.9" stroke="#333333" stroke-width="2.3"/>
</g>
<rect x="115.5" y="1378" width="1270.5" height="2.4" fill="#d4d4d4"/>
<g fill="#000">
<rect x="106" y="9" width="1284" height="7"/>
<rect x="106" y="9" width="9.5" height="1380"/>
<rect x="1386" y="9" width="4" height="1382"/>
<rect x="106" y="1370.5" width="1284" height="7.5"/>
<rect x="321.2" y="1377" width="2.6" height="12"/>
<rect x="537.2" y="1377" width="2.6" height="12"/>
<rect x="752.2" y="1377" width="2.6" height="12"/>
<rect x="967.7" y="1377" width="2.6" height="12"/>
<rect x="1184.4" y="1377" width="2.6" height="12"/>
</g>
<rect x="1383" y="593" width="3" height="11" fill="#444"/>
<rect x="105.5" y="402" width="2.8" height="8" fill="#fff"/>
<rect x="1383.5" y="836" width="2.5" height="4" fill="#aaa"/>
<text transform="translate(85.31,1427.21) scale(1.0095,1)" font-size="39.41">30</text>
<text transform="translate(304.03,1427.21) scale(0.9560,1)" font-size="39.41">40</text>
<text transform="translate(524.83,1427.21) scale(0.9350,1)" font-size="39.41">50</text>
<text transform="translate(737.12,1427.21) scale(0.9300,1)" font-size="39.41">60</text>
<text transform="translate(949.76,1427.21) scale(0.8945,1)" font-size="39.41">70</text>
<text transform="translate(1170.26,1427.21) scale(0.9684,1)" font-size="39.41">80</text>
<text transform="translate(1371.92,1427.21) scale(0.9168,1)" font-size="39.41">90</text>
<text transform="translate(119.44,47.68) scale(1.0640,1)" font-size="36.78">(002)</text>
<text transform="translate(263.68,47.83) scale(1.0303,1)" font-size="37.00">(011)</text>
<text transform="translate(114.35,246.88) scale(1.0448,1)" font-size="37.22">(010)</text>
<text transform="translate(458.60,317.46) scale(1.0541,1)" font-size="35.89">(012)</text>
<text transform="translate(665.29,371.99) scale(1.0511,1)" font-size="36.22">(110)</text>
<text transform="translate(789.01,100.44) scale(1.0442,1)" font-size="36.00">(013)</text>
<text transform="translate(1000.27,110.85) scale(1.0425,1)" font-size="36.89">(004)</text>
<text transform="translate(1191.82,314.46) scale(1.0407,1)" font-size="35.89">(014)</text>
<text transform="translate(1109.90,385.49) scale(1.0561,1)" font-size="35.78">(022)</text>
<text transform="translate(257.62,430.22) scale(1.0316,1)" font-size="36.11">(111)</text>
<text transform="translate(388.50,534.72) scale(1.0436,1)" font-size="36.11">(002)</text>
<text transform="translate(824.17,584.30) scale(1.0515,1)" font-size="36.67">(022)</text>
<text transform="translate(1103.86,589.97) scale(1.0099,1)" font-size="38.22">(113)</text>
<text transform="translate(1196.29,625.91) scale(1.0259,1)" font-size="37.11">(222)</text>
<text transform="translate(305.33,683.88) scale(1.0116,1)" font-size="36.78">(111)</text>
<text transform="translate(394.33,765.28) scale(1.0116,1)" font-size="36.78">(002)</text>
<text transform="translate(829.26,812.87) scale(1.0244,1)" font-size="37.78">(022)</text>
<text transform="translate(1109.87,818.01) scale(1.0350,1)" font-size="37.11">(113)</text>
<text transform="translate(1201.47,856.81) scale(1.0363,1)" font-size="37.11">(222)</text>
<text transform="translate(176.72,1081.44) scale(1.0348,1)" font-size="36.00">(010)</text>
<text transform="translate(244.32,956.53) scale(1.0081,1)" font-size="37.00">(002)</text>
<text transform="translate(289.22,909.11) scale(1.0038,1)" font-size="37.11">(011)</text>
<text transform="translate(565.88,1092.64) scale(1.0206,1)" font-size="37.44">(012)</text>
<text transform="translate(781.01,1110.82) scale(1.0296,1)" font-size="36.56">(110)</text>
<text transform="translate(946.55,1100.18) scale(1.0588,1)" font-size="36.78">(013)</text>
<text transform="translate(1019.23,1128.68) scale(1.0103,1)" font-size="36.78">(020)</text>
<text transform="translate(1065.09,1086.61) scale(1.0674,1)" font-size="35.67">(112)</text>
<text transform="translate(1117.55,1120.38) scale(0.9985,1)" font-size="36.78">(021)</text>
<text transform="translate(1202.02,1126.07) scale(1.0253,1)" font-size="36.33">(004)</text>
<text transform="translate(1296.70,1126.07) scale(1.0386,1)" font-size="36.33">(022)</text>
<text transform="translate(180.27,1289.38) scale(1.0483,1)" font-size="36.78">(010)</text>
<text transform="translate(249.33,1254.48) scale(1.0103,1)" font-size="36.78">(002)</text>
<text transform="translate(339.31,1187.17) scale(0.9963,1)" font-size="37.78">(011)</text>
<text transform="translate(570.68,1304.44) scale(1.0616,1)" font-size="36.00">(012)</text>
<text transform="translate(785.81,1317.72) scale(1.0423,1)" font-size="36.11">(110)</text>
<text transform="translate(947.49,1314.99) scale(1.0641,1)" font-size="35.78">(013)</text>
<text transform="translate(1021.91,1348.78) scale(1.0234,1)" font-size="36.78">(020)</text>
<text transform="translate(1066.01,1293.81) scale(1.0553,1)" font-size="35.67">(112)</text>
<text transform="translate(1112.91,1330.61) scale(1.0553,1)" font-size="35.67">(021)</text>
<text transform="translate(1201.10,1351.16) scale(1.0633,1)" font-size="35.44">(004)</text>
<text transform="translate(1304.94,1338.25) scale(1.0103,1)" font-size="36.44">(022)</text>
<g transform="rotate(-90 912.70 353.00)"><text transform="translate(874.10,361.91) scale(0.9610,1)" font-size="37.11">(020)</text></g>
<g transform="rotate(-90 943.75 335.50)"><text transform="translate(904.62,344.43) scale(0.9710,1)" font-size="37.22">(112)</text></g>
<g transform="rotate(-90 985.90 329.50)"><text transform="translate(946.15,338.51) scale(0.9778,1)" font-size="37.56">(021)</text></g>
<rect x="119" y="90" width="46" height="42" fill="#000"/>
<text transform="translate(117.50,123.68) scale(1.1371,1)" font-size="37.22" style="fill:#fff">(a)</text>
<rect x="121" y="572" width="47" height="42" fill="#000"/>
<text transform="translate(119.77,605.37) scale(1.0650,1)" font-size="38.22" style="fill:#fff">(b)</text>
<rect x="119" y="1080" width="44" height="42" fill="#000"/>
<text transform="translate(117.50,1113.76) scale(1.1318,1)" font-size="37.33" style="fill:#fff">(c)</text>
<text transform="translate(1095.23,474.57) scale(1.0106,1)" font-size="36.19">Al Coating, F.C.C</text>
<text transform="translate(1103.03,731.07) scale(1.0198,1)" font-size="36.04">Al Powder, F.C.C</text>
<text transform="translate(1060.45,956.50) scale(0.9857,1)" font-size="36.96">Ti Coating, <tspan style="font-style:italic">α</tspan>-H.C.P</text>
<text transform="translate(1073.86,1205.32) scale(0.9780,1)" font-size="36.99">Ti Powder, <tspan style="font-style:italic">α</tspan>-H.C.P</text>
<text transform="translate(1123.43,68.48) scale(0.9585,1)" font-size="38.15">AZ31B,</text>
<text transform="translate(1252.79,68.69) scale(0.9588,1)" font-size="47.21" style="font-weight:normal">α-Mg</text>
<text transform="translate(638.31,1519.20) scale(1.0736,1)" font-size="44.00">2θ(degree)</text>
<g transform="rotate(-90 27.10 755.45)"><text transform="translate(-123.44,766.38) scale(1.0591,1)" font-size="45.56">Intensity (a.u.)</text></g>
</svg></body></html>
